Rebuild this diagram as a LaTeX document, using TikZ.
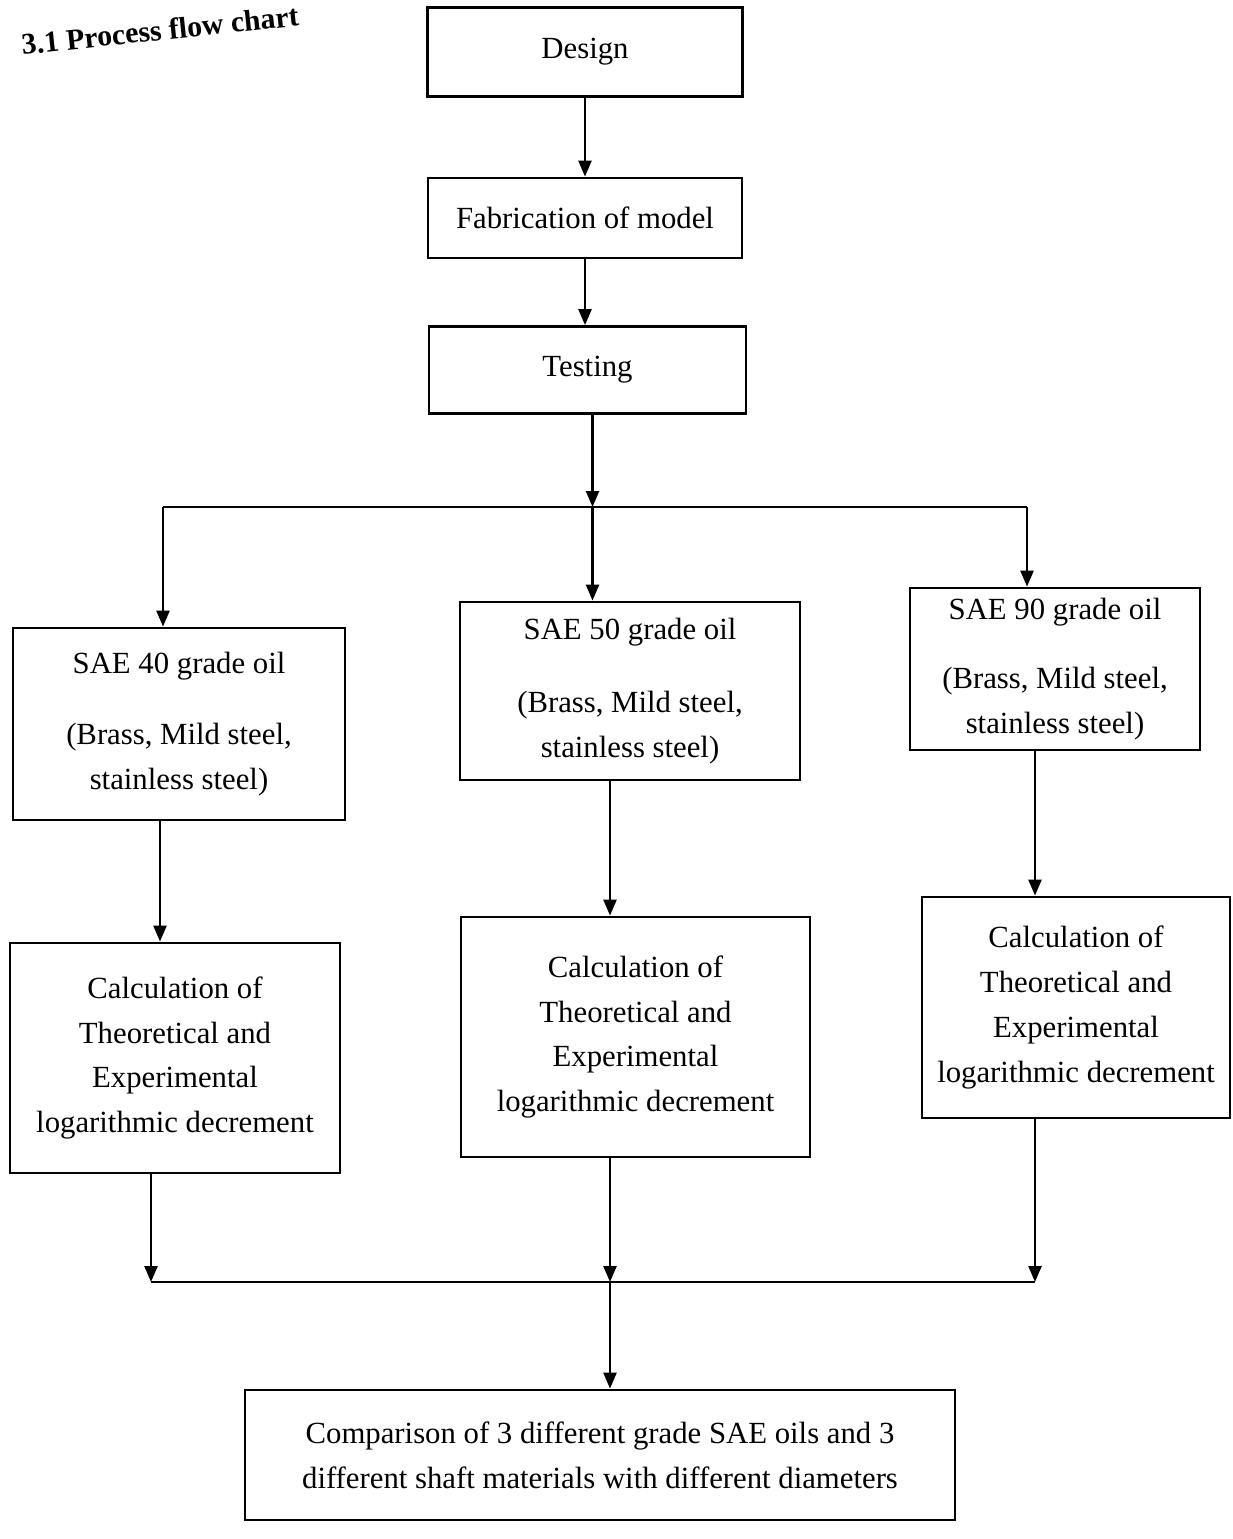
\documentclass[tikz,border=0pt]{standalone}
\usepackage{fontspec}
\setmainfont{Liberation Serif}
\usepackage{tikz}
\usetikzlibrary{arrows.meta,positioning}
\tikzstyle{box} = [draw, line width=1.6pt, align=center, inner sep=0pt, font=\fontsize{17.5}{25.5}\selectfont]
\tikzstyle{link} = [-{Triangle[length=3.2mm,width=2.6mm]}, line width=1.4pt]
\tikzstyle{rail} = [line width=1.4pt]

\begin{document}
\begin{tikzpicture}
                    \useasboundingbox (0,0) rectangle (24.66,-30.78);
                    \node[rotate=6, font=\bfseries\fontsize{17}{20}\selectfont] (title) at (3.2,-0.6) {3.1 Process flow chart};
                    \node[box, minimum width=6.3cm, minimum height=1.78cm] (design) at (11.7,-1.04) {Design};
                    \node[box, minimum width=6.28cm, minimum height=1.6cm] (fabrication) at (11.7,-4.36) {Fabrication of model};
                    \node[box, minimum width=6.34cm, minimum height=1.74cm] (testing) at (11.75,-7.4) {Testing};
                    \node[box, minimum width=6.64cm, minimum height=3.84cm] (sae40) at (3.58,-14.48) {SAE 40 grade oil\\[15pt] (Brass, Mild steel,\\ stainless steel)};
                    \node[box, minimum width=6.8cm, minimum height=3.56cm] (sae50) at (12.6,-13.82) {SAE 50 grade oil\\[16pt] (Brass, Mild steel,\\ stainless steel)};
                    \node[box, minimum width=5.8cm, minimum height=3.24cm] (sae90) at (21.1,-13.38) {SAE 90 grade oil\\[14pt] (Brass, Mild steel,\\ stainless steel)};
                    \node[box, minimum width=6.6cm, minimum height=4.6cm] (calc40) at (3.5,-21.16) {Calculation of\\ Theoretical and\\ Experimental\\ logarithmic decrement};
                    \node[box, minimum width=6.98cm, minimum height=4.8cm] (calc50) at (12.71,-20.74) {Calculation of\\ Theoretical and\\ Experimental\\ logarithmic decrement};
                    \node[box, minimum width=6.16cm, minimum height=4.42cm] (calc90) at (21.52,-20.15) {Calculation of\\ Theoretical and\\ Experimental\\ logarithmic decrement};
                    \node[box, minimum width=14.2cm, minimum height=2.6cm] (comparison) at (12.0,-29.1) {Comparison of 3 different grade SAE oils and 3\\ different shaft materials with different diameters};
                    \coordinate (split) at (11.85,-10.14);
                    \coordinate (splitL) at (3.26,-10.14);
                    \coordinate (splitR) at (20.54,-10.14);
                    \coordinate (join) at (12.2,-25.64);
                    \coordinate (joinL) at (3.02,-25.64);
                    \coordinate (joinR) at (20.7,-25.64);
                    \draw[link] (design) -- (fabrication);
                    \draw[link] (fabrication) -- (fabrication |- testing.north);
                    \draw[link] (testing.south -| split) -- (split);
                    \draw[rail] (splitL) -- (splitR);
                    \draw[link] (splitL) -- (splitL |- sae40.north);
                    \draw[link] (split) -- (split |- sae50.north);
                    \draw[link] (splitR) -- (splitR |- sae90.north);
                    \draw[link] ([xshift=-3.8mm]sae40.south) -- ([xshift=-3.8mm]sae40.south |- calc40.north);
                    \draw[link] ([xshift=-4mm]sae50.south) -- ([xshift=-4mm]sae50.south |- calc50.north);
                    \draw[link] ([xshift=-4mm]sae90.south) -- ([xshift=-4mm]sae90.south |- calc90.north);
                    \draw[link] (calc40.south -| joinL) -- (joinL);
                    \draw[link] (calc50.south -| join) -- (join);
                    \draw[link] (calc90.south -| joinR) -- (joinR);
                    \draw[rail] (joinL) -- (joinR);
                    \draw[link] (join) -- (join |- comparison.north);
                \end{tikzpicture}
\end{document}
